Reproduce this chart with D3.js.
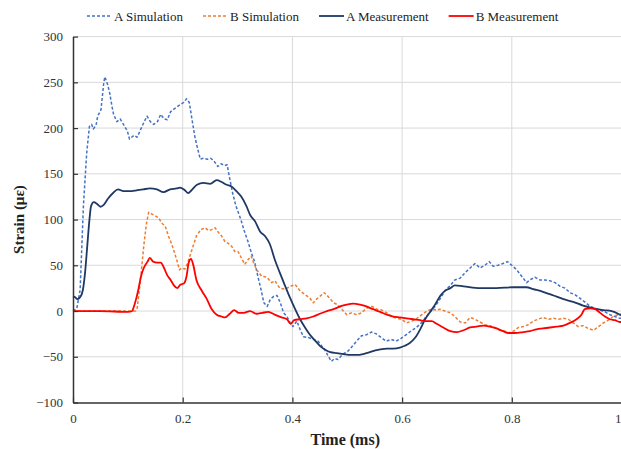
<!DOCTYPE html>
<html>
<head>
<meta charset="utf-8">
<script src="https://cdn.jsdelivr.net/npm/d3@7"></script>
<style>
  body { margin: 0; background: #fff; }
  svg { display: block; font-family: "Liberation Serif", "Times New Roman", serif; }
</style>
</head>
<body>
<svg id="chart" width="621" height="449"></svg>
<script>
// Series names
const seriesNames = ["A Simulation", "B Simulation", "A Measurement", "B Measurement"];

// X ticks / Y ticks
const xTicks = [0, 0.2, 0.4, 0.6, 0.8, 1];
const yTicks = [-100, -50, 0, 50, 100, 150, 200, 250, 300];

// A Simulation (time ms, strain)
const aSimT = [0, 0.007, 0.013, 0.019, 0.025, 0.030, 0.034, 0.037, 0.042, 0.045, 0.051, 0.056, 0.058, 0.063, 0.067, 0.071, 0.074, 0.080, 0.086, 0.092, 0.099, 0.103, 0.111, 0.117, 0.123, 0.129, 0.135, 0.141, 0.147, 0.154, 0.160, 0.166, 0.172, 0.178, 0.187, 0.196, 0.202, 0.207, 0.212, 0.216, 0.222, 0.227, 0.232, 0.238, 0.245, 0.251, 0.257, 0.264, 0.270, 0.276, 0.281, 0.285, 0.291, 0.297, 0.306, 0.312, 0.319, 0.325, 0.331, 0.337, 0.343, 0.348, 0.354, 0.360, 0.366, 0.372, 0.378, 0.384, 0.390, 0.396, 0.401, 0.408, 0.414, 0.420, 0.429, 0.438, 0.447, 0.453, 0.459, 0.465, 0.471, 0.477, 0.483, 0.489, 0.495, 0.501, 0.510, 0.517, 0.526, 0.535, 0.544, 0.553, 0.562, 0.571, 0.580, 0.589, 0.598, 0.607, 0.616, 0.626, 0.635, 0.644, 0.653, 0.660, 0.669, 0.678, 0.688, 0.696, 0.706, 0.715, 0.724, 0.733, 0.742, 0.751, 0.759, 0.766, 0.775, 0.784, 0.792, 0.800, 0.809, 0.818, 0.827, 0.833, 0.842, 0.851, 0.860, 0.870, 0.879, 0.888, 0.897, 0.906, 0.915, 0.924, 0.933, 0.943, 0.952, 0.961, 0.970, 0.979, 0.988, 0.997, 1.0];
const aSimV = [0, 3, 23, 115, 173, 202, 204, 199, 203, 213, 220, 249, 256, 248, 238, 224, 215, 207, 210, 204, 197, 188, 192, 190, 198, 206, 213, 207, 204, 207, 215, 210, 209, 218, 222, 226, 228, 232, 228, 213, 191, 178, 166, 167, 166, 167, 164, 158, 161, 159, 160, 147, 129, 115, 100, 88, 76, 64, 54, 38, 23, 9, 5, 13, 16, 17, 9, -2, -6, -13, -17, -11, -20, -28, -29, -31, -33, -38, -42, -49, -55, -52, -53, -49, -46, -44, -38, -33, -27, -26, -23, -25, -29, -33, -31, -33, -30, -26, -22, -18, -13, -6, 0, 5, 13, 22, 28, 34, 36, 42, 47, 52, 47, 50, 54, 49, 50, 52, 54, 50, 45, 38, 31, 34, 37, 34, 34, 33, 31, 27, 25, 20, 18, 14, 10, 5, 3, 1, -1, -4, -6, -8, -8];

// B Simulation
const bSimT = [0, 0.05, 0.114, 0.117, 0.123, 0.129, 0.134, 0.138, 0.144, 0.150, 0.156, 0.162, 0.168, 0.174, 0.180, 0.186, 0.190, 0.194, 0.198, 0.204, 0.208, 0.213, 0.219, 0.225, 0.233, 0.241, 0.247, 0.253, 0.259, 0.265, 0.271, 0.277, 0.283, 0.289, 0.295, 0.301, 0.307, 0.313, 0.319, 0.325, 0.329, 0.335, 0.344, 0.353, 0.362, 0.368, 0.377, 0.387, 0.396, 0.405, 0.414, 0.423, 0.432, 0.438, 0.444, 0.450, 0.458, 0.465, 0.475, 0.482, 0.490, 0.499, 0.508, 0.517, 0.526, 0.535, 0.545, 0.554, 0.563, 0.572, 0.581, 0.590, 0.599, 0.608, 0.618, 0.627, 0.636, 0.645, 0.654, 0.663, 0.669, 0.678, 0.688, 0.696, 0.706, 0.715, 0.724, 0.733, 0.742, 0.751, 0.760, 0.769, 0.778, 0.788, 0.794, 0.803, 0.812, 0.821, 0.830, 0.839, 0.848, 0.857, 0.867, 0.876, 0.885, 0.894, 0.903, 0.912, 0.921, 0.930, 0.939, 0.949, 0.958, 0.967, 0.976, 0.985, 0.994, 1.0];
const bSimV = [0, 0, 0, 3, 34, 71, 96, 108, 106, 104, 102, 96, 93, 82, 73, 62, 54, 45, 47, 46, 51, 60, 71, 82, 89, 91, 88, 89, 91, 86, 82, 76, 74, 71, 65, 65, 58, 51, 56, 60, 53, 45, 38, 37, 31, 33, 25, 24, 27, 29, 22, 18, 14, 9, 13, 16, 20, 16, 9, 7, 2, -4, -2, -4, -2, 3, 5, 2, 1, -2, -6, -8, -9, -13, -11, -8, -4, 0, 2, 1, 2, 0, -2, -6, -12, -13, -7, -9, -12, -15, -16, -18, -21, -22, -24, -22, -18, -17, -15, -11, -9, -7, -9, -8, -9, -8, -9, -13, -17, -16, -19, -21, -17, -13, -10, -6, -4, -3];

// A Measurement
const aMeasT = [0, 0.004, 0.008, 0.013, 0.018, 0.022, 0.026, 0.030, 0.033, 0.038, 0.044, 0.050, 0.056, 0.064, 0.073, 0.082, 0.092, 0.104, 0.116, 0.128, 0.140, 0.153, 0.165, 0.177, 0.189, 0.195, 0.204, 0.210, 0.216, 0.226, 0.238, 0.250, 0.262, 0.271, 0.280, 0.289, 0.298, 0.307, 0.316, 0.323, 0.332, 0.341, 0.350, 0.359, 0.368, 0.377, 0.387, 0.396, 0.405, 0.414, 0.423, 0.432, 0.441, 0.450, 0.459, 0.469, 0.481, 0.493, 0.505, 0.517, 0.529, 0.541, 0.551, 0.560, 0.572, 0.584, 0.596, 0.605, 0.614, 0.624, 0.633, 0.642, 0.651, 0.660, 0.669, 0.678, 0.688, 0.696, 0.712, 0.742, 0.772, 0.803, 0.827, 0.839, 0.857, 0.876, 0.894, 0.912, 0.930, 0.949, 0.967, 0.982, 0.997, 1.0];
const aMeasV = [16, 15, 13, 15, 23, 42, 71, 100, 115, 119, 117, 114, 116, 123, 129, 133, 131, 131, 132, 133, 134, 133, 130, 133, 134, 135, 132, 129, 132, 138, 140, 139, 143, 141, 138, 136, 131, 125, 115, 105, 98, 87, 82, 73, 56, 42, 27, 14, 2, -9, -18, -26, -32, -38, -42, -45, -46, -47, -48, -48, -47, -45, -43, -42, -41, -41, -40, -38, -35, -29, -20, -9, -1, 7, 16, 22, 25, 28, 27, 25, 25, 26, 26, 24, 21, 17, 13, 10, 6, 3, 1, 0, -4, -5];

// B Measurement
const bMeasT = [0, 0.05, 0.10, 0.108, 0.110, 0.115, 0.119, 0.124, 0.129, 0.136, 0.140, 0.146, 0.154, 0.160, 0.166, 0.172, 0.178, 0.184, 0.190, 0.196, 0.202, 0.207, 0.211, 0.215, 0.219, 0.225, 0.234, 0.244, 0.253, 0.262, 0.271, 0.277, 0.286, 0.294, 0.302, 0.311, 0.323, 0.335, 0.345, 0.356, 0.368, 0.380, 0.390, 0.397, 0.403, 0.414, 0.426, 0.438, 0.450, 0.463, 0.475, 0.487, 0.499, 0.511, 0.523, 0.535, 0.547, 0.560, 0.572, 0.584, 0.596, 0.608, 0.620, 0.633, 0.642, 0.654, 0.663, 0.675, 0.688, 0.700, 0.712, 0.724, 0.736, 0.748, 0.760, 0.772, 0.784, 0.794, 0.806, 0.821, 0.833, 0.845, 0.857, 0.870, 0.882, 0.894, 0.906, 0.918, 0.927, 0.933, 0.943, 0.952, 0.961, 0.970, 0.979, 0.988, 0.997, 1.0];
const bMeasV = [0, 0, -1, 0, 3, 13, 23, 38, 47, 54, 58, 54, 53, 53, 47, 39, 34, 28, 25, 29, 30, 38, 53, 57, 51, 34, 23, 13, 2, -4, -6, -7, -3, 1, -2, -2, 0, -3, -2, -1, -4, -7, -9, -14, -10, -9, -8, -6, -3, 0, 2, 5, 7, 8, 7, 5, 2, -1, -4, -6, -7, -8, -9, -10, -11, -11, -14, -18, -22, -23, -21, -18, -17, -16, -17, -19, -22, -24, -24, -23, -22, -20, -19, -18, -17, -16, -13, -9, -4, 2, 3, 2, -2, -6, -9, -10, -12, -12];

const svg = d3.select("#chart");
const margin = { left: 73, right: 0, top: 36.6, bottom: 46.5 };
const W = 621, H = 449;

const x = d3.scaleLinear().domain([0, 1]).range([margin.left, 621.5]);
const y = d3.scaleLinear().domain([-100, 300]).range([H - margin.bottom, margin.top]);

// gridlines
const grid = svg.append("g").attr("stroke", "#d9d9d9").attr("stroke-width", 1);
grid.selectAll("line.h").data(yTicks.filter(d => d > -100)).enter().append("line")
  .attr("x1", x(0)).attr("x2", x(1))
  .attr("y1", d => y(d)).attr("y2", d => y(d));
grid.selectAll("line.v").data(xTicks.filter(d => d > 0)).enter().append("line")
  .attr("x1", d => x(d)).attr("x2", d => x(d))
  .attr("y1", y(300)).attr("y2", y(-100));

// series
const series = [
  { name: seriesNames[0], t: aSimT, v: aSimV, color: "#4472C4", dash: "3,2", width: 1.5, curve: d3.curveLinear },
  { name: seriesNames[1], t: bSimT, v: bSimV, color: "#ED7D31", dash: "3,2", width: 1.5, curve: d3.curveLinear },
  { name: seriesNames[2], t: aMeasT, v: aMeasV, color: "#1F3864", dash: null, width: 1.8, curve: d3.curveMonotoneX },
  { name: seriesNames[3], t: bMeasT, v: bMeasV, color: "#FF0000", dash: null, width: 1.8, curve: d3.curveMonotoneX }
];

series.forEach(s => {
  const pts = s.t.map((t, i) => [t, s.v[i]]);
  const line = d3.line().x(d => x(d[0])).y(d => y(d[1])).curve(s.curve);
  svg.append("path")
    .datum(pts)
    .attr("fill", "none")
    .attr("stroke", s.color)
    .attr("stroke-width", s.width)
    .attr("stroke-dasharray", s.dash)
    .attr("stroke-linejoin", "round")
    .attr("d", line);
});

// axes
const yAxis = d3.axisLeft(y).tickValues(yTicks).tickSize(-5).tickSizeOuter(0).tickPadding(10);
const xAxis = d3.axisBottom(x).tickValues(xTicks).tickSize(-5).tickSizeOuter(0).tickPadding(11)
  .tickFormat(d => d === 0 ? "0" : d === 1 ? "1" : d3.format(".1f")(d));

const gy = svg.append("g").attr("transform", `translate(${x(0)},0)`).call(yAxis);
const gx = svg.append("g").attr("transform", `translate(0,${y(-100)})`).call(xAxis);
[gx, gy].forEach(g => {
  g.select(".domain").attr("stroke", "#333").attr("stroke-width", 1.5);
  g.selectAll(".tick line").attr("stroke", "#333").attr("stroke-width", 1.2);
  g.selectAll(".tick text").attr("fill", "#333").style("font-size", "13px")
    .style("font-family", '"Liberation Serif", "Times New Roman", serif');
});
// last x label sits on the right edge, keep it inside the page
gx.selectAll(".tick text").filter(d => d === 1).attr("text-anchor", "end").attr("x", -0.5);

// axis titles
svg.append("text")
  .attr("x", (x(0) + x(1)) / 2 - 2).attr("y", 445)
  .attr("text-anchor", "middle")
  .attr("font-size", 16).attr("font-weight", "bold").attr("fill", "#222")
  .text("Time (ms)");

svg.append("text")
  .attr("transform", `translate(24,${(y(300) + y(-100)) / 2}) rotate(-90)`)
  .attr("text-anchor", "middle")
  .attr("font-size", 15).attr("font-weight", "bold").attr("fill", "#222")
  .text("Strain (\u03BC\u03B5)");

// legend
const legend = svg.append("g");
let lx = 87;
series.forEach(s => {
  legend.append("line")
    .attr("x1", lx).attr("x2", lx + 25)
    .attr("y1", 16).attr("y2", 16)
    .attr("stroke", s.color)
    .attr("stroke-width", s.width)
    .attr("stroke-dasharray", s.dash);
  const t = legend.append("text")
    .attr("x", lx + 27).attr("y", 20.5)
    .attr("font-size", 13).attr("fill", "#222")
    .text(s.name);
  lx += 27 + t.node().getComputedTextLength() + 20;
});
</script>
</body>
</html>
